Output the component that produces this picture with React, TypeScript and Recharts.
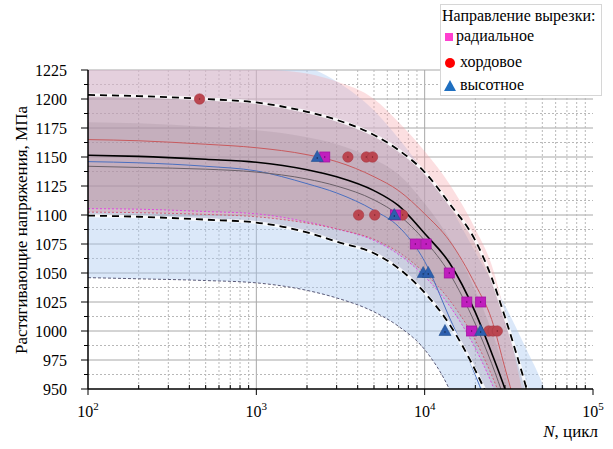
import React from "react";
import {
  Area,
  CartesianGrid,
  ComposedChart,
  Line,
  Scatter,
  XAxis,
  YAxis,
} from "recharts";

const FONT = "Liberation Serif";

// cycle grid shared by every curve
const N_GRID = [100, 200, 500, 1000, 2000, 3000, 5000, 7000, 10000, 14000, 20000, 25000, 30000, 40000, 50000, 70000];

// all specimens: mean and bounds (black)
const meanAll = [1151.5, 1150.5, 1148, 1145.5, 1139, 1133, 1121, 1108, 1084, 1059, 1016, 981, 950, 890, null, null];
const upperAll = [1203.5, 1202.5, 1200, 1197, 1189, 1182, 1169, 1156, 1137, 1110, 1078, 1046, 1012, 952, 900, null];
const lowerAll = [1099.5, 1098.5, 1096, 1093.5, 1085, 1077, 1067, 1054, 1033, 1006, 966, 935, 900, 840, 780, null];

// radial
const radialMean = [1142, 1141, 1139.5, 1137, 1131, 1125, 1113, 1100, 1078, 1050, 1006, 972, 940, null, null, null];
const radialUpper = [1180, 1179, 1176, 1173, 1167, 1161, 1148, 1135, 1110, 1080, 1035, 1000, 965, 905, null, null];
const radialLower = [1105.5, 1105, 1103, 1101, 1094, 1088, 1078, 1066, 1047, 1022, 985, 955, 925, 870, null, null];

// chord
const chordMean = [1165, 1164, 1161, 1158, 1152, 1146, 1133, 1121, 1101, 1078, 1040, 1010, 968, 905, null, null];
const chordUpper = [1240, 1236, 1230, 1226, 1222, 1215, 1200, 1180, 1155, 1127, 1088, 1057, 1015, 935, 880, null];
const chordLower = [1102.5, 1102, 1100.5, 1098.5, 1093, 1088, 1079, 1068, 1050, 1027, 992, 962, 933, 880, 830, null];

// height
const heightMean = [1146, 1145, 1142, 1138, 1127, 1119, 1104, 1090, 1060, 1012, 962, 925, 890, null, null, null];
const heightUpper = [1250, 1248, 1244, 1238, 1228, 1215, 1190, 1166, 1137, 1108, 1068, 1043, 1022, 985, 955, 890];
const heightLower = [1046, 1045, 1043.5, 1041.5, 1035, 1028.5, 1016.5, 1004, 984, 950, 890, 850, 810, 740, 680, 600];

// test points
const radialN = [2550, 6700, 8800, 10200, 14000, 17800, 21500, 19000];
const radialS = [1150, 1100, 1075, 1075, 1050, 1025, 1025, 1000];
const chordN = [460, 3500, 4500, 4900, 4050, 5050, 7400, 24000, 25500, 27000];
const chordS = [1200, 1150, 1150, 1150, 1100, 1100, 1100, 1000, 1000, 1000];
const heightN = [2300, 6600, 9800, 10500, 13200, 21500];
const heightS = [1150, 1100, 1050, 1050, 1000, 1000];

const seriesNames = ["радиальное", "хордовое", "высотное"];
const legendTitle = "Направление вырезки:";

// axes
const yTicks = [950, 962.5, 975, 987.5, 1000, 1012.5, 1025, 1037.5, 1050, 1062.5, 1075, 1087.5, 1100, 1112.5, 1125, 1137.5, 1150, 1162.5, 1175, 1187.5, 1200, 1212.5, 1225];
const yMajorGrid = [975, 1000, 1025, 1050, 1075, 1100, 1125, 1150, 1175, 1200, 1225];
const yMinorGrid = [962.5, 987.5, 1012.5, 1037.5, 1062.5, 1087.5, 1112.5, 1137.5, 1162.5, 1187.5, 1212.5];
const xDecades = [100, 1000, 10000, 100000];
const xMinor = [200, 300, 400, 500, 600, 700, 800, 900, 2000, 3000, 4000, 5000, 6000, 7000, 8000, 9000, 20000, 30000, 40000, 50000, 60000, 70000, 80000, 90000];
const xTicks = [...xDecades, ...xMinor].sort((a, b) => a - b);

const rows = N_GRID.map((n, i) => ({
  n,
  meanAll: meanAll[i],
  upperAll: upperAll[i],
  lowerAll: lowerAll[i],
  radialMean: radialMean[i],
  radialUpper: radialUpper[i],
  radialLower: radialLower[i],
  chordMean: chordMean[i],
  chordUpper: chordUpper[i],
  chordLower: chordLower[i],
  heightMean: heightMean[i],
  heightUpper: heightUpper[i],
  heightLower: heightLower[i],
}));

const toPoints = (ns: number[], ss: number[]) => ns.map((n, i) => ({ n, s: ss[i] }));
const radialPts = toPoints(radialN, radialS);
const chordPts = toPoints(chordN, chordS);
const heightPts = toPoints(heightN, heightS);

const range = (lo: string, hi: string) => (d: any) =>
  d[lo] == null || d[hi] == null ? null : [d[lo], d[hi]];

function YTick(props: any) {
  const { x, y, payload } = props;
  const v = payload.value;
  const major = v % 25 === 0;
  return (
    <g>
      <line x1={x - (major ? 7 : 4)} x2={x} y1={y} y2={y} stroke="#000" strokeWidth={1} />
      {major && (
        <text x={x - 21} y={y} dy="0.35em" textAnchor="end" fontSize={16} fontFamily={FONT} fill="#000">
          {v}
        </text>
      )}
    </g>
  );
}

function XTick(props: any) {
  const { x, y, payload } = props;
  const v = payload.value;
  const major = xDecades.includes(v);
  if (!major) {
    return <line x1={x} x2={x} y1={y - 4} y2={y} stroke="#000" strokeWidth={1} />;
  }
  return (
    <g>
      <line x1={x} x2={x} y1={y} y2={y + 6} stroke="#000" strokeWidth={1} />
      <text x={x} y={y + 28} textAnchor="middle" fontSize={16} fontFamily={FONT} fill="#000">
        10
        <tspan dy={-7} fontSize={11}>
          {Math.round(Math.log10(v))}
        </tspan>
      </text>
    </g>
  );
}

const Square = ({ cx, cy }: any) => (
  <g>
    <rect x={cx - 5} y={cy - 5} width={10} height={10} fill="#c01fbe" stroke="#a514a3" strokeWidth={0.8} />
    <circle cx={cx} cy={cy} r={0.7} fill="#600060" />
  </g>
);
const Dot = ({ cx, cy }: any) => (
  <g>
    <circle cx={cx} cy={cy} r={5.2} fill="#bb4650" stroke="#a83a44" strokeWidth={0.6} />
    <circle cx={cx} cy={cy} r={0.7} fill="#7a2028" />
  </g>
);
const Tri = ({ cx, cy }: any) => (
  <g>
    <polygon points={`${cx},${cy - 6.5} ${cx + 6},${cy + 4.5} ${cx - 6},${cy + 4.5}`} fill="#2d5fae" stroke="#24508f" strokeWidth={0.6} />
    <circle cx={cx} cy={cy + 1} r={0.7} fill="#102040" />
  </g>
);

function Legend() {
  const row = (top: number, left: number, symbol: React.ReactNode, label: string) => (
    <div style={{ position: "absolute", top, left: 0, height: 14, width: 150 }}>
      <svg width={14} height={14} style={{ position: "absolute", left: 2, top: 0 }}>
        {symbol}
      </svg>
      <span style={{ position: "absolute", left, top: -3, lineHeight: "18px", whiteSpace: "nowrap" }}>{label}</span>
    </div>
  );
  return (
    <div
      style={{
        position: "absolute",
        left: 440,
        top: 4,
        width: 160,
        height: 90,
        background: "#fff",
        border: "1px solid #d6d6d6",
        fontFamily: FONT,
        fontSize: 16,
        color: "#000",
      }}
    >
      <div style={{ position: "absolute", left: 1, top: 2, lineHeight: "18px", whiteSpace: "nowrap" }}>{legendTitle}</div>
      {row(25, 15, <rect x={2} y={3} width={8} height={8} fill="#ff3fcf" />, seriesNames[0])}
      {row(51, 19, <circle cx={7} cy={7} r={5} fill="#ff0000" />, seriesNames[1])}
      {row(74, 19, <polygon points="7,1 13,12 1,12" fill="#1f6fc0" />, seriesNames[2])}
    </div>
  );
}

export default function App() {
  return (
    <div style={{ position: "absolute", left: 0, top: 0, width: 613, height: 449, background: "#fff", fontFamily: FONT }}>
      <ComposedChart
        width={613}
        height={449}
        data={rows}
        margin={{ top: 70, right: 20, bottom: 0, left: 0 }}
      >
        <CartesianGrid
          stroke="#a8a8a8"
          strokeWidth={1}
          horizontalValues={yMajorGrid}
          verticalValues={[1000, 10000]}
        />
        <CartesianGrid
          stroke="#b8b8b8"
          strokeWidth={1}
          strokeDasharray="2 2"
          horizontalValues={yMinorGrid}
          verticalValues={xMinor}
        />
        <XAxis
          dataKey="n"
          type="number"
          scale="log"
          domain={[100, 100000]}
          ticks={xTicks}
          interval={0}
          allowDataOverflow
          tickSize={0}
          tickMargin={0}
          tickLine={false}
          axisLine={{ stroke: "#000", strokeWidth: 1.5 }}
          tick={<XTick />}
          height={60}
          label={{
            content: () => (
              <text x={598} y={437} textAnchor="end" fontSize={17} fontFamily={FONT} fill="#000">
                <tspan fontStyle="italic">N</tspan>, цикл
              </text>
            ),
          }}
        />
        <YAxis
          type="number"
          domain={[950, 1225]}
          ticks={yTicks}
          interval={0}
          allowDataOverflow
          tickSize={0}
          tickMargin={0}
          tickLine={false}
          axisLine={{ stroke: "#000", strokeWidth: 1.5 }}
          tick={<YTick />}
          width={88}
          label={{
            content: () => (
              <text
                x={27}
                y={230}
                transform="rotate(-90 27 230)"
                textAnchor="middle"
                fontSize={17}
                fontFamily={FONT}
                fill="#000"
              >
                Растягивающие напряжения,  МПа
              </text>
            ),
          }}
        />

        <Area dataKey={range("heightLower", "heightUpper")} type="monotone" stroke="none" fill="#a9c8f0" fillOpacity={0.42} isAnimationActive={false} />
        <Area dataKey={range("chordLower", "chordUpper")} type="monotone" stroke="none" fill="#f6a4a8" fillOpacity={0.35} isAnimationActive={false} />
        <Area dataKey={range("lowerAll", "upperAll")} type="monotone" stroke="none" fill="#8a6f82" fillOpacity={0.2} isAnimationActive={false} />
        <Area dataKey={range("radialLower", "radialUpper")} type="monotone" stroke="none" fill="#7a6070" fillOpacity={0.14} isAnimationActive={false} />

        <Line dataKey="heightLower" type="monotone" stroke="#5a5a78" strokeWidth={1} strokeDasharray="3 2" dot={false} isAnimationActive={false} />
        <Line dataKey="radialLower" type="monotone" stroke="#e048e0" strokeWidth={1} strokeDasharray="2 2" dot={false} isAnimationActive={false} />
        <Line dataKey="chordLower" type="monotone" stroke="#d0607a" strokeWidth={1} strokeDasharray="2 2" dot={false} isAnimationActive={false} />
        <Line dataKey="chordMean" type="monotone" stroke="#c85a5e" strokeWidth={1} dot={false} isAnimationActive={false} />
        <Line dataKey="heightMean" type="monotone" stroke="#4a6fc0" strokeWidth={1} dot={false} isAnimationActive={false} />
        <Line dataKey="radialMean" type="monotone" stroke="#6a6068" strokeWidth={1} dot={false} isAnimationActive={false} />

        <Line dataKey="upperAll" type="monotone" stroke="#fff" strokeWidth={3.2} strokeOpacity={0.85} dot={false} isAnimationActive={false} />
        <Line dataKey="upperAll" type="monotone" stroke="#000" strokeWidth={1.8} strokeDasharray="7 5" dot={false} isAnimationActive={false} />
        <Line dataKey="lowerAll" type="monotone" stroke="#fff" strokeWidth={3.2} strokeOpacity={0.85} dot={false} isAnimationActive={false} />
        <Line dataKey="lowerAll" type="monotone" stroke="#000" strokeWidth={1.8} strokeDasharray="7 5" dot={false} isAnimationActive={false} />

        <Scatter data={chordPts} dataKey="s" shape={<Dot />} isAnimationActive={false} />
        <Scatter data={radialPts} dataKey="s" shape={<Square />} isAnimationActive={false} />
        <Scatter data={heightPts} dataKey="s" shape={<Tri />} isAnimationActive={false} />

        <Line dataKey="meanAll" type="monotone" stroke="#000" strokeWidth={1.6} dot={false} isAnimationActive={false} />
      </ComposedChart>
      <Legend />
    </div>
  );
}
